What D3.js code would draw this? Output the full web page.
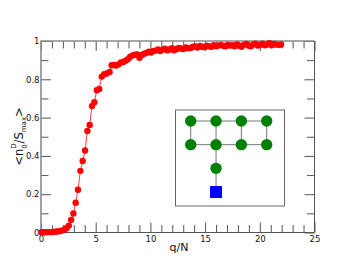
<!DOCTYPE html>
<html>
<head>
<meta charset="utf-8">
<script src="https://cdn.jsdelivr.net/npm/d3@7"></script>
<style>
html, body { margin: 0; padding: 0; background: #fff; }
svg { display: block; }
text { font-family: "DejaVu Sans", sans-serif; fill: #111; }
</style>
</head>
<body>
<div id="chart"></div>
<script>
const qValues = [0.05, 0.21, 0.42, 0.63, 0.85, 1.06, 1.27, 1.48, 1.69, 1.9, 2.12, 2.33, 2.54, 2.75, 2.96, 3.17, 3.38, 3.6, 3.81, 4.03, 4.24, 4.45, 4.66, 4.88, 5.1, 5.32, 5.55, 5.78, 6.0, 6.27, 6.46, 6.67, 6.88, 7.1, 7.3, 7.52, 7.72, 7.94, 8.15, 8.37, 8.58, 8.79, 9.0, 9.22, 9.43, 9.64, 9.85, 10.06, 10.28, 10.49, 10.7, 10.91, 11.12, 11.34, 11.55, 11.76, 11.97, 12.18, 12.4, 12.61, 12.82, 13.03, 13.24, 13.46, 13.67, 13.88, 14.09, 14.3, 14.52, 14.73, 14.94, 15.15, 15.36, 15.58, 15.79, 16.0, 16.21, 16.42, 16.64, 16.85, 17.06, 17.27, 17.48, 17.7, 17.91, 18.12, 18.33, 18.54, 18.76, 18.97, 19.18, 19.39, 19.6, 19.82, 20.03, 20.24, 20.45, 20.66, 20.88, 21.09, 21.3, 21.51, 21.72, 21.94];
const nValues = [0.001, 0.001, 0.001, 0.002, 0.002, 0.003, 0.004, 0.005, 0.007, 0.01, 0.014, 0.022, 0.036, 0.066, 0.099, 0.155, 0.223, 0.322, 0.374, 0.428, 0.53, 0.562, 0.66, 0.68, 0.743, 0.75, 0.814, 0.826, 0.83, 0.838, 0.873, 0.875, 0.872, 0.878, 0.888, 0.89, 0.897, 0.905, 0.918, 0.925, 0.928, 0.93, 0.912, 0.927, 0.934, 0.938, 0.944, 0.94, 0.948, 0.95, 0.956, 0.948, 0.955, 0.96, 0.952, 0.956, 0.962, 0.952, 0.958, 0.964, 0.96, 0.958, 0.966, 0.962, 0.964, 0.97, 0.972, 0.966, 0.974, 0.97, 0.968, 0.976, 0.972, 0.97, 0.978, 0.972, 0.976, 0.98, 0.975, 0.972, 0.98, 0.976, 0.978, 0.972, 0.982, 0.976, 0.97, 0.98, 0.984, 0.976, 0.972, 0.982, 0.986, 0.976, 0.98, 0.986, 0.978, 0.982, 0.988, 0.978, 0.984, 0.982, 0.98, 0.982];
const xMajor = [0, 5, 10, 15, 20, 25];
const xMinor = d3.range(0, 26).filter(d => d % 5 !== 0);
const yMajor = [0, 0.2, 0.4, 0.6, 0.8, 1];
const yMinor = [0.1, 0.3, 0.5, 0.7, 0.9];

// inset ladder: grid columns / rows of the green nodes
const nodeCols = [0, 1, 2, 3, 0, 1, 2, 3, 1];
const nodeRows = [0, 0, 0, 0, 1, 1, 1, 1, 2];
const edgeFrom = [0, 1, 2, 4, 5, 6, 0, 1, 2, 3, 5, 8];
const edgeTo = [1, 2, 3, 5, 6, 7, 4, 5, 6, 7, 8, 9];
const squareCol = 1, squareRow = 3;

const w = 354, h = 274;
const svg = d3.select("#chart").append("svg").attr("width", w).attr("height", h);

const x = d3.scaleLinear().domain([0, 25]).range([41, 314.5]);
const y = d3.scaleLinear().domain([0, 1]).range([232.5, 41]);

const tickCol = "#555";

// ticks, all pointing inward
const addAxis = (axis, tr, cls) => {
    const g = svg.append("g").attr("transform", tr).attr("class", cls).call(axis);
    g.select(".domain").remove();
    g.selectAll("line").attr("stroke", tickCol).attr("stroke-width", 1);
    return g;
};
const fmt = d => d;
const none = () => "";

const b = addAxis(d3.axisBottom(x).tickValues(xMajor).tickSize(-10).tickFormat(fmt), "translate(0,232.5)", "xb");
b.selectAll("text").attr("y", 3.5).attr("dy", "0.71em").attr("font-size", 8.5).attr("font-family", "DejaVu Sans");
addAxis(d3.axisBottom(x).tickValues(xMinor).tickSize(-7.5).tickFormat(none), "translate(0,232.5)", "xbm");
addAxis(d3.axisTop(x).tickValues(xMajor).tickSize(-10).tickFormat(none), "translate(0,41)", "xt");
addAxis(d3.axisTop(x).tickValues(xMinor).tickSize(-7.5).tickFormat(none), "translate(0,41)", "xtm");

const l = addAxis(d3.axisLeft(y).tickValues(yMajor).tickSize(-10).tickFormat(fmt), "translate(41,0)", "yl");
l.selectAll("text").attr("x", -1.5).attr("font-size", 8.5).attr("font-family", "DejaVu Sans");
addAxis(d3.axisLeft(y).tickValues(yMinor).tickSize(-7.5).tickFormat(none), "translate(41,0)", "ylm");
addAxis(d3.axisRight(y).tickValues(yMajor).tickSize(-10).tickFormat(none), "translate(314.5,0)", "yr");
addAxis(d3.axisRight(y).tickValues(yMinor).tickSize(-7.5).tickFormat(none), "translate(314.5,0)", "yrm");

// frame
svg.append("path")
    .attr("d", `M${x(0)},${y(0)}V${y(1)}H${x(25)}`)
    .attr("fill", "none").attr("stroke", "#8c8c8c").attr("stroke-width", 1.6);
svg.append("path")
    .attr("d", `M${x(0)},${y(0)}H${x(25)}V${y(1)}`)
    .attr("fill", "none").attr("stroke", "#555").attr("stroke-width", 1);

// curve
const line = d3.line().x(d => x(d[0])).y(d => y(d[1]));
const pts = d3.zip(qValues, nValues);
svg.append("path").datum(pts).attr("d", line)
    .attr("fill", "none").attr("stroke", "#ff4040").attr("stroke-width", 1);
svg.append("g").selectAll("circle").data(pts).enter().append("circle")
    .attr("cx", d => x(d[0])).attr("cy", d => y(d[1])).attr("r", 3.2).attr("fill", "#ff0000");

// axis labels
svg.append("text").attr("x", 179).attr("y", 251).attr("text-anchor", "middle")
    .attr("font-size", 11).text("q/N");

const yl = svg.append("text").attr("transform", "translate(22.5,136.5) rotate(-90)")
    .attr("text-anchor", "middle").attr("font-size", 11.5);
yl.append("tspan").text("<n");
yl.append("tspan").attr("font-size", 7).attr("dy", 4).text("0");
yl.append("tspan").attr("font-size", 7).attr("dy", -11).attr("dx", -4.5).text("D");
yl.append("tspan").attr("dy", 7).text("/S");
yl.append("tspan").attr("font-size", 7).attr("dy", 3).text("max");
yl.append("tspan").attr("dy", -3).text(">");

// inset
const ix = d3.scaleLinear().domain([0, 3]).range([190.7, 266.7]);
const iy = d3.scaleLinear().domain([0, 3]).range([121, 192]);
svg.append("rect").attr("x", 175.5).attr("y", 110).attr("width", 109).attr("height", 96)
    .attr("fill", "#fff").attr("stroke", "#666").attr("stroke-width", 1);

const posX = i => i < nodeCols.length ? ix(nodeCols[i]) : ix(squareCol);
const posY = i => i < nodeRows.length ? iy(nodeRows[i]) : iy(squareRow);
svg.append("g").selectAll("line").data(d3.zip(edgeFrom, edgeTo)).enter().append("line")
    .attr("x1", d => posX(d[0])).attr("y1", d => posY(d[0]))
    .attr("x2", d => posX(d[1])).attr("y2", d => posY(d[1]))
    .attr("stroke", "#777").attr("stroke-width", 1);
svg.append("g").selectAll("circle").data(d3.range(nodeCols.length)).enter().append("circle")
    .attr("cx", posX).attr("cy", posY).attr("r", 5.7).attr("fill", "#008000");
svg.append("rect").attr("x", ix(squareCol) - 6).attr("y", iy(squareRow) - 6)
    .attr("width", 12).attr("height", 12).attr("fill", "#0000ff");
</script>
</body>
</html>
